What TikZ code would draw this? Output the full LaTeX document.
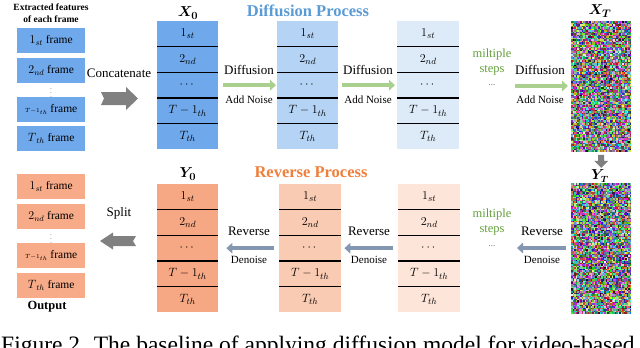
\documentclass[tikz,border=0pt]{standalone}
\usepackage{fontspec}
\setmainfont{Liberation Serif}
\usepackage{amsmath}
\usepackage{bm}
\usetikzlibrary{arrows.meta,calc}
\definecolor{cA}{RGB}{111,168,235}
\definecolor{cB}{RGB}{180,211,245}
\definecolor{cC}{RGB}{221,235,249}
\definecolor{oA}{RGB}{246,167,131}
\definecolor{oB}{RGB}{250,203,179}
\definecolor{oC}{RGB}{253,229,217}
\definecolor{oL}{RGB}{248,171,136}
\definecolor{tBlue}{RGB}{91,155,213}
\definecolor{tOrange}{RGB}{240,127,60}
\definecolor{gText}{RGB}{100,160,60}
\definecolor{gArrow}{RGB}{169,208,142}
\definecolor{bArrow}{RGB}{132,151,176}
\definecolor{fatGray}{RGB}{128,128,128}
\newcommand\mystack[1]{%
  \foreach \t [count=\k] in {1_{st},2_{nd},\cdots,T-1_{th},T_{th}}
    \node[celltxt] at ($(#1.north)!{(\k-0.5)/5}!(#1.south)$) {$\t$};
  \foreach \k in {1,...,4}
    \draw[divline] ($(#1.north west)!{\k/5}!(#1.south west)$) -- ($(#1.north east)!{\k/5}!(#1.south east)$);
}
\newcommand\mynoise[1]{%
  \begin{scope}[shift={(#1.north west)}]
  \foreach \i in {0,...,39}{\foreach \j in {0,...,86}{%
     \pgfmathsetmacro\ra{rnd}\pgfmathsetmacro\rb{rnd}\pgfmathsetmacro\rc{rnd}%
     \definecolor{nc}{rgb}{\ra,\rb,\rc}%
     \fill[nc] (1.5*\i,1.5*\j) rectangle ++(1.5,1.5);}}
  \end{scope}}
\begin{document}
\begin{tikzpicture}[x=1pt,y=-1pt,
  stackbox/.style={minimum width=61pt, minimum height=128pt, anchor=north west, inner sep=0, draw=none},
  noisebox/.style={minimum width=60pt, minimum height=130.5pt, anchor=north west, inner sep=0, draw=none},
  lbox/.style={minimum width=68pt, minimum height=25pt, anchor=north west, inner sep=0, font=\fontsize{11.5}{13}\selectfont},
  celltxt/.style={inner sep=0, font=\fontsize{12.5}{14}\selectfont},
  divline/.style={line width=1.2pt, black},
  lbl/.style={inner sep=0, font=\fontsize{13}{15}\selectfont},
  slbl/.style={inner sep=0, font=\fontsize{11}{13}\selectfont},
  steplbl/.style={inner sep=0, font=\fontsize{12.5}{14}\selectfont, text=gText},
  dotlbl/.style={inner sep=0, font=\fontsize{9}{10}\selectfont, text=black!60},
  vdot/.style={inner sep=0, font=\fontsize{5.5}{6}\selectfont},
  bigtitle/.style={inner sep=0, font=\fontsize{16.5}{18}\selectfont\bfseries},
  varlbl/.style={inner sep=0, font=\fontsize{15}{17}\selectfont},
  garrow/.style={draw=gArrow, line width=4.5pt, -{Triangle[length=6pt,width=10.5pt]}},
  barrow/.style={draw=bArrow, line width=4.5pt, -{Triangle[length=6pt,width=10.5pt]}},
  fat/.style={fill=fatGray, draw=none}
]
\useasboundingbox (0,0) rectangle (640,348);
\clip (0,0) rectangle (640,348);

% ---------- left input column ----------
\node[inner sep=0, font=\fontsize{9.5}{11}\selectfont\bfseries] (t1) at (51,7) {Extracted features};
\node[inner sep=0, font=\fontsize{9.5}{11}\selectfont\bfseries] (t2) at (51,19) {of each frame};
\node[lbox, fill=cA] (f1) at (17,28) {$1_{st}$ frame};
\node[lbox, fill=cA] (f2) at (17,58) {$2_{nd}$ frame};
\node[vdot] (fd) at (51,90) {$\vdots$};
\node[lbox, fill=cA] (f3) at (17,97) {$\scriptscriptstyle T-1_{th}$ frame};
\node[lbox, fill=cA] (f4) at (17,126) {$T_{\,th}$ frame};

\node[lbl] (concat) at (119,73) {Concatenate};
\fill[fat] (101,92) -- (126,92) -- (126,87) -- (138,98.5) -- (126,110) -- (126,105) -- (101,105) -- (104,98.5) -- cycle;

% ---------- diffusion process ----------
\node[bigtitle, text=tBlue] (dp) at (308,11) {Diffusion Process};
\node[varlbl] (lx0) at (188,13) {$\bm{X_0}$};
\node[stackbox, fill=cA] (x0) at (157,21) {};
\node[stackbox, fill=cB] (x1) at (277,21) {};
\node[stackbox, fill=cC, minimum width=62pt] (x2) at (397,21) {};
\mystack{x0}\mystack{x1}\mystack{x2}

\node[noisebox] (xT) at (571,21) {};
\pgfmathsetseed{1234}
\mynoise{xT}
\node[varlbl] (lxT) at (600,11) {$\bm{X_T}$};

\draw[garrow, shorten <=5pt, shorten >=1pt] (x0.east) -- (x1.west);
\draw[garrow, shorten <=4pt, shorten >=2pt] (x1.east) -- (x2.west);
\coordinate (m1) at (515,86);
\draw[garrow, shorten >=3pt] (m1) -- (m1 -| xT.west);

\node[lbl] at (249,70) {Diffusion};
\node[slbl] at (249,100) {Add Noise};
\node[lbl] at (368,70) {Diffusion};
\node[slbl] at (368,100) {Add Noise};
\node[lbl] at (540,70) {Diffusion};
\node[slbl] at (540,100) {Add Noise};
\node[steplbl] at (492,54) {miltiple};
\node[steplbl] at (492,70) {steps};
\node[dotlbl] at (492,85) {...};

% ---------- down arrow ----------
\node[noisebox] (yT) at (571,183) {};
\fill[fat] ($(xT.south)+(-3,3)$) -- ++(6,0) -- ++(0,6) -- ++(4,0) -- ++(-7,7) -- ++(-7,-7) -- ++(4,0) -- cycle;
\mynoise{yT}
\node[varlbl, font=\fontsize{13.5}{15}\selectfont] (lyT) at (600,176) {$\bm{Y_T}$};

% ---------- reverse process ----------
\node[bigtitle, text=tOrange] (rp) at (311,172) {Reverse Process};
\node[varlbl] (ly0) at (188,174) {$\bm{Y_0}$};
\node[stackbox, fill=oA] (y0) at (157,184) {};
\node[stackbox, fill=oB, minimum width=62pt] (y1) at (279,184) {};
\node[stackbox, fill=oC, minimum width=62pt] (y2) at (398,184) {};
\mystack{y0}\mystack{y1}\mystack{y2}

\draw[barrow, shorten <=5pt, shorten >=8pt] (y1.west) -- (y0.east);
\draw[barrow, shorten <=5pt, shorten >=3pt] (y2.west) -- (y1.east);
\coordinate (m2) at (517,248);
\draw[barrow, shorten <=5pt] (m2 -| yT.west) -- (m2);

\node[lbl] at (249,231) {Reverse};
\node[slbl] at (249,260) {Denoise};
\node[lbl] at (369,231) {Reverse};
\node[slbl] at (369,260) {Denoise};
\node[lbl] at (542,231) {Reverse};
\node[slbl] at (542,260) {Denoise};
\node[steplbl] at (492,214) {miltiple};
\node[steplbl] at (492,230) {steps};
\node[dotlbl] at (492,246) {...};

% ---------- output column ----------
\node[lbl] (split) at (119,213) {Split};
\fill[fat] (136,236) -- (113,236) -- (113,232.5) -- (100,241) -- (113,249.5) -- (113,246) -- (136,246) -- (133,241) -- cycle;
\node[lbox, fill=oL] (o1) at (17,174) {$1_{st}$ frame};
\node[lbox, fill=oL] (o2) at (17,204) {$2_{nd}$ frame};
\node[vdot] (od) at (51,236.5) {$\vdots$};
\node[lbox, fill=oL] (o3) at (17,243) {$\scriptscriptstyle T-1_{th}$ frame};
\node[lbox, fill=oL] (o4) at (17,273) {$T_{\,th}$ frame};
\node[inner sep=0, font=\fontsize{12.5}{14}\selectfont\bfseries] (out) at (47,307) {Output};

% ---------- caption (cut off) ----------
\node[anchor=base west, inner sep=0, font=\fontsize{23.5}{26}\selectfont] (cap) at (1,352.5) {Figure 2. The baseline of applying diffusion model for video-based};
\end{tikzpicture}
\end{document}
